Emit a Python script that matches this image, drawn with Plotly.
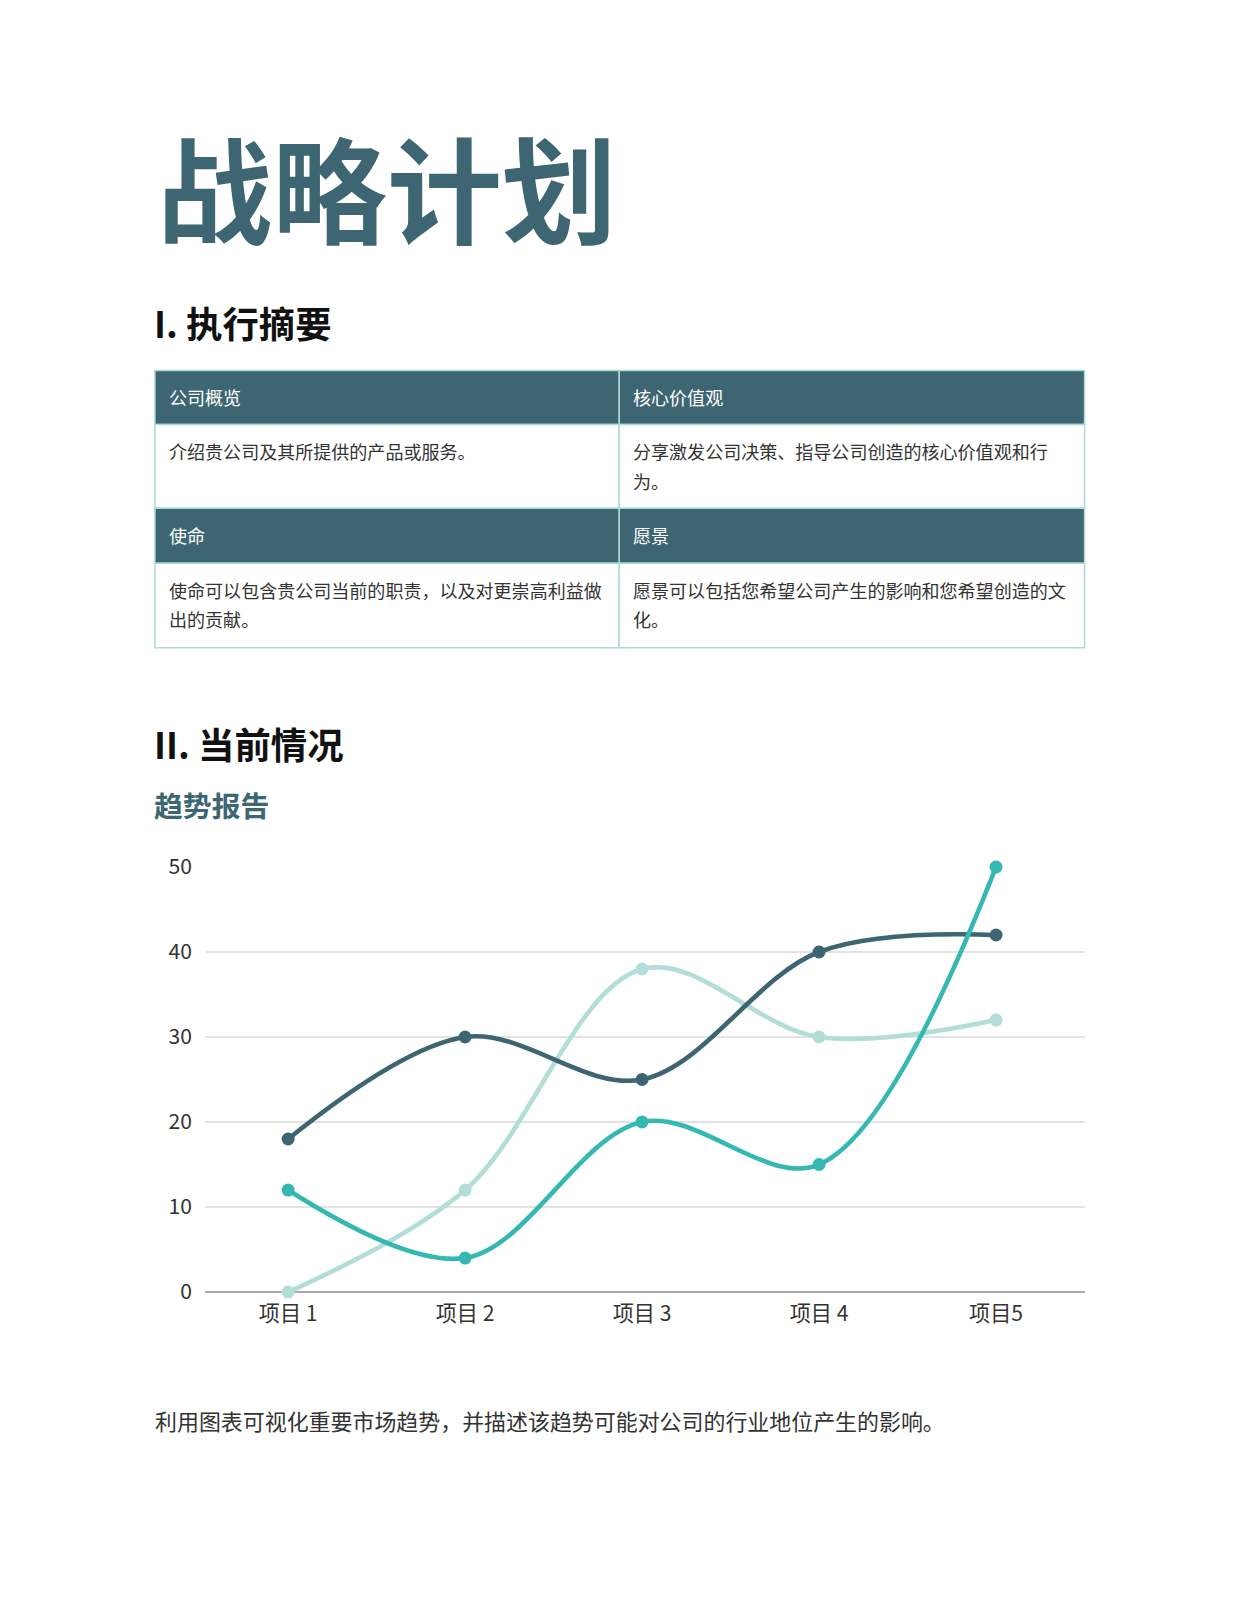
import plotly.graph_objects as go

# chart data
items = ["项目 1", "项目 2", "项目 3", "项目 4", "项目5"]
series_dark = [18, 30, 25, 40, 42]
series_teal = [12, 4, 20, 15, 50]
series_light = [0, 12, 38, 30, 32]
y_ticks = [0, 10, 20, 30, 40, 50]

# page text
title = "战略计划"
section1 = "I. 执行摘要"
section2 = "II. 当前情况"
subtitle = "趋势报告"
footer = "利用图表可视化重要市场趋势，并描述该趋势可能对公司的行业地位产生的影响。"
table_heads = [["公司概览", "核心价值观"], ["使命", "愿景"]]
table_bodies = [
    [["介绍贵公司及其所提供的产品或服务。"],
     ["分享激发公司决策、指导公司创造的核心价值观和行", "为。"]],
    [["使命可以包含贵公司当前的职责，以及对更崇高利益做", "出的贡献。"],
     ["愿景可以包括您希望公司产生的影响和您希望创造的文", "化。"]],
]

W, H = 1237, 1600
# the captured page comes out slightly shrunk and shifted, compensate for it
SX, OX = 0.98, 7
SY, OY = 0.962, 23
FS = 1 / 0.97

DARK = "#3d6672"
TEAL = "#36b8b2"
LIGHT = "#b3ded8"
BORDER = "#a9dcd6"
FONT = "Noto Sans CJK SC"


def px(x):
    return (x - OX) / SX / W


def py(y):
    return 1 - (y - OY) / SY / H


fig = go.Figure()

for vals, color in [(series_light, LIGHT), (series_dark, DARK), (series_teal, TEAL)]:
    fig.add_trace(go.Scatter(
        x=items, y=vals, mode="lines+markers",
        line=dict(color=color, width=4.6, shape="spline", smoothing=1.0),
        marker=dict(color=color, size=13),
        cliponaxis=False, showlegend=False, hoverinfo="skip",
    ))

annotations = []
shapes = []


def text(x, y, s, size, color="#222", weight="normal"):
    annotations.append(dict(
        x=px(x), y=py(y), xref="paper", yref="paper", text=s, showarrow=False,
        xanchor="left", yanchor="middle",
        font=dict(family=FONT, size=size * FS, color=color, weight=weight),
    ))


text(151, 179, title, 111.5, DARK, "bold")
text(148, 313, section1, 35.3, "#111", "bold")
text(148, 726, section2, 35.3, "#111", "bold")
text(148, 787, subtitle, 28, DARK, "bold")
text(149, 1391, footer, 21.3, "#333")

# table
left, mid, right = 151, 606, 1062
row_tops = [361, 414, 496, 550, 633]
for r in range(4):
    top, bot = row_tops[r], row_tops[r + 1]
    fill = DARK if r % 2 == 0 else "white"
    for x0, x1 in [(left, mid), (mid, right)]:
        shapes.append(dict(
            type="rect", xref="paper", yref="paper",
            x0=px(x0), x1=px(x1), y0=py(bot), y1=py(top),
            fillcolor=fill, line=dict(color=BORDER, width=1.5), layer="below",
        ))

for k in range(2):
    head_top = row_tops[2 * k]
    body_top = row_tops[2 * k + 1]
    for c, x0 in enumerate([left, mid]):
        text(x0 + 12, head_top + 26, table_heads[k][c], 17.5, "white")
        for li, line in enumerate(table_bodies[k][c]):
            text(x0 + 12, body_top + 26 + li * 29, line, 17.5, "#333")

fig.update_layout(
    width=W, height=H,
    margin=dict(l=0, r=0, t=0, b=0),
    paper_bgcolor="white", plot_bgcolor="white",
    annotations=annotations, shapes=shapes,
    xaxis=dict(
        domain=[px(200), px(1062)], range=[-0.47, 4.5],
        showgrid=False, showline=False, zeroline=False,
        ticks="", ticklabelstandoff=7,
        tickfont=dict(family=FONT, size=20.5 * FS, color="#333"),
        fixedrange=True,
    ),
    yaxis=dict(
        domain=[py(1265), py(848)], range=[0, 50],
        tickvals=y_ticks, showgrid=True, gridcolor="#e2e2e2", gridwidth=1.5,
        zeroline=True, zerolinecolor="#aaaaaa", zerolinewidth=2,
        showline=False, ticks="", ticklabelstandoff=12,
        tickfont=dict(family=FONT, size=20.5 * FS, color="#333"),
        fixedrange=True,
    ),
)

fig.write_html("out.html")
